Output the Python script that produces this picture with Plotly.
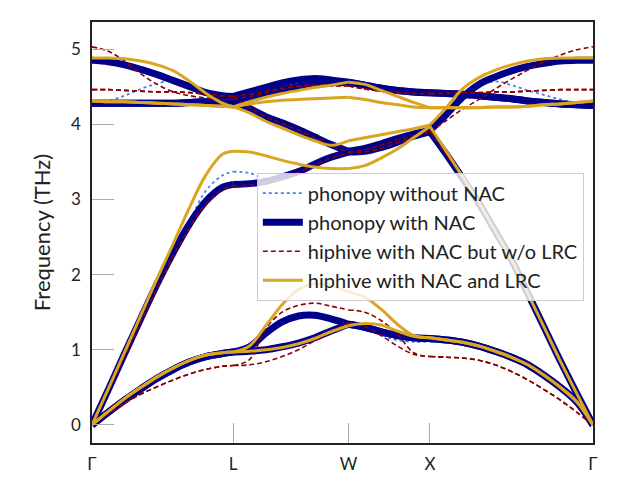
import plotly.graph_objects as go

# path coordinate (distance along Γ-L-W-X-Γ)
q = [0.0, 0.1, 0.2, 0.3, 0.4, 0.5, 0.6, 0.7, 0.8, 0.866,
     0.966, 1.066, 1.166, 1.266, 1.366, 1.466, 1.573,
     1.673, 1.773, 1.873, 1.973, 2.073,
     2.173, 2.273, 2.373, 2.473, 2.573, 2.673, 2.773, 2.873, 2.973, 3.073]
sym_q = [0.0, 0.866, 1.573, 2.073, 3.073]
sym_labels = ["Γ", "L", "W", "X", "Γ"]
seg_idx = [0, 9, 16, 21, 31]

# ---- phonopy with NAC ----
nac_ta1 = [0, 0.17, 0.33, 0.48, 0.62, 0.74, 0.84, 0.91, 0.95, 0.97,
           0.98, 1.0, 1.04, 1.09, 1.16, 1.25, 1.34,
           1.3, 1.24, 1.19, 1.16, 1.15,
           1.13, 1.1, 1.05, 0.98, 0.9, 0.8, 0.66, 0.5, 0.31, 0]
nac_ta2 = [0, 0.17, 0.33, 0.48, 0.62, 0.74, 0.84, 0.91, 0.95, 0.97,
           1.04, 1.22, 1.37, 1.45, 1.46, 1.41, 1.34,
           1.3, 1.24, 1.19, 1.16, 1.15,
           1.13, 1.1, 1.05, 0.98, 0.9, 0.8, 0.66, 0.5, 0.31, 0]
nac_la = [0, 0.47, 0.95, 1.42, 1.88, 2.3, 2.68, 2.98, 3.16, 3.2,
          3.21, 3.24, 3.3, 3.37, 3.47, 3.56, 3.63,
          3.64, 3.69, 3.76, 3.84, 3.9,
          3.6, 3.28, 2.95, 2.58, 2.2, 1.75, 1.3, 0.85, 0.42, 0]
nac_o1 = [4.28, 4.28, 4.28, 4.28, 4.28, 4.28, 4.29, 4.3, 4.31, 4.31,
          4.21, 4.1, 4.02, 3.93, 3.83, 3.73, 3.64,
          3.68, 3.74, 3.81, 3.87, 3.92,
          4.13, 4.36, 4.53, 4.63, 4.71, 4.77, 4.81, 4.84, 4.85, 4.85]
nac_o2 = [4.28, 4.28, 4.28, 4.28, 4.28, 4.28, 4.29, 4.3, 4.31, 4.31,
          4.36, 4.41, 4.46, 4.5, 4.53, 4.55, 4.56,
          4.52, 4.48, 4.45, 4.43, 4.42,
          4.41, 4.4, 4.38, 4.36, 4.34, 4.31, 4.29, 4.27, 4.26, 4.25]
nac_o3 = [4.85, 4.83, 4.79, 4.73, 4.66, 4.58, 4.5, 4.42, 4.38, 4.37,
          4.43, 4.49, 4.55, 4.59, 4.61, 4.59, 4.56,
          4.52, 4.48, 4.45, 4.43, 4.42,
          4.41, 4.4, 4.38, 4.36, 4.34, 4.31, 4.29, 4.27, 4.26, 4.25]

# ---- phonopy without NAC ----
raw_ta1 = [0, 0.17, 0.33, 0.48, 0.62, 0.74, 0.84, 0.91, 0.95, 0.97,
           0.98, 1.0, 1.04, 1.09, 1.16, 1.25, 1.34,
           1.3, 1.2, 1.13, 1.11, 1.11,
           1.11, 1.09, 1.05, 0.98, 0.9, 0.8, 0.66, 0.5, 0.31, 0]
raw_ta2 = [0, 0.17, 0.33, 0.48, 0.62, 0.74, 0.84, 0.91, 0.95, 0.97,
           1.04, 1.22, 1.37, 1.45, 1.46, 1.41, 1.34,
           1.3, 1.2, 1.13, 1.11, 1.11,
           1.11, 1.09, 1.05, 0.98, 0.9, 0.8, 0.66, 0.5, 0.31, 0]
raw_la = [0, 0.47, 0.95, 1.42, 1.88, 2.3, 2.72, 3.12, 3.32, 3.37,
          3.35, 3.28, 3.3, 3.37, 3.47, 3.56, 3.63,
          3.64, 3.69, 3.76, 3.84, 3.9,
          3.6, 3.28, 2.95, 2.58, 2.2, 1.75, 1.3, 0.85, 0.42, 0]
raw_o1 = [4.28, 4.28, 4.28, 4.28, 4.28, 4.28, 4.29, 4.3, 4.31, 4.31,
          4.21, 4.1, 4.02, 3.93, 3.83, 3.73, 3.64,
          3.68, 3.74, 3.81, 3.87, 3.92,
          4.13, 4.36, 4.52, 4.57, 4.52, 4.45, 4.39, 4.33, 4.28, 4.25]
raw_o2 = [4.28, 4.28, 4.28, 4.28, 4.28, 4.28, 4.29, 4.3, 4.31, 4.31,
          4.36, 4.41, 4.46, 4.5, 4.53, 4.55, 4.56,
          4.52, 4.48, 4.45, 4.43, 4.42,
          4.41, 4.4, 4.38, 4.36, 4.34, 4.31, 4.29, 4.27, 4.26, 4.25]
raw_o3 = [4.28, 4.31, 4.38, 4.47, 4.54, 4.58, 4.5, 4.42, 4.38, 4.37,
          4.43, 4.49, 4.55, 4.59, 4.61, 4.59, 4.56,
          4.52, 4.48, 4.45, 4.43, 4.42,
          4.41, 4.4, 4.38, 4.36, 4.34, 4.31, 4.29, 4.27, 4.26, 4.25]

# ---- hiphive with NAC but w/o LRC ----
nolrc_ta1 = [0, 0.15, 0.29, 0.41, 0.51, 0.6, 0.68, 0.74, 0.78, 0.79,
             0.8, 0.84, 0.91, 1.0, 1.12, 1.24, 1.36,
             1.31, 1.19, 1.05, 0.94, 0.91,
             0.9, 0.89, 0.86, 0.8, 0.71, 0.6, 0.47, 0.33, 0.17, 0]
nolrc_ta2 = [0, 0.15, 0.29, 0.41, 0.51, 0.6, 0.68, 0.74, 0.78, 0.79,
             0.87, 1.28, 1.5, 1.59, 1.62, 1.58, 1.53,
             1.5, 1.39, 1.21, 0.96, 0.91,
             0.9, 0.89, 0.86, 0.8, 0.71, 0.6, 0.47, 0.33, 0.17, 0]
nolrc_la = [0, 0.45, 0.91, 1.37, 1.82, 2.25, 2.63, 2.94, 3.13, 3.18,
            3.19, 3.22, 3.28, 3.36, 3.46, 3.55, 3.62,
            3.63, 3.68, 3.75, 3.83, 3.9,
            3.6, 3.28, 2.95, 2.58, 2.2, 1.75, 1.3, 0.85, 0.42, 0]
nolrc_o1 = [4.46, 4.46, 4.45, 4.44, 4.43, 4.43, 4.42, 4.4, 4.38, 4.37,
            4.22, 4.1, 4.01, 3.92, 3.82, 3.72, 3.63,
            3.66, 3.72, 3.79, 3.85, 3.9,
            4.05, 4.2, 4.33, 4.47, 4.6, 4.72, 4.83, 4.92, 4.99, 5.03]
nolrc_o2 = [4.46, 4.46, 4.45, 4.44, 4.43, 4.43, 4.42, 4.4, 4.38, 4.37,
            4.4, 4.44, 4.47, 4.5, 4.51, 4.51, 4.51,
            4.47, 4.44, 4.42, 4.41, 4.41,
            4.41, 4.42, 4.42, 4.43, 4.43, 4.44, 4.45, 4.46, 4.46, 4.46]
nolrc_o3 = [5.03, 4.97, 4.84, 4.67, 4.53, 4.43, 4.38, 4.35, 4.33, 4.33,
            4.37, 4.42, 4.48, 4.51, 4.52, 4.52, 4.51,
            4.47, 4.44, 4.42, 4.41, 4.41,
            4.41, 4.42, 4.42, 4.43, 4.43, 4.44, 4.45, 4.46, 4.46, 4.46]

# ---- hiphive with NAC and LRC ----
lrc_ta1 = [0, 0.18, 0.35, 0.5, 0.64, 0.76, 0.86, 0.93, 0.96, 0.97,
           0.98, 1.0, 1.03, 1.08, 1.15, 1.24, 1.32,
           1.35, 1.33, 1.25, 1.18, 1.16,
           1.13, 1.1, 1.05, 0.98, 0.9, 0.8, 0.66, 0.5, 0.31, 0]
lrc_ta2 = [0, 0.18, 0.35, 0.5, 0.64, 0.76, 0.86, 0.93, 0.96, 0.97,
           1.05, 1.32, 1.6, 1.8, 1.88, 1.85, 1.77,
           1.7, 1.54, 1.34, 1.19, 1.16,
           1.13, 1.1, 1.05, 0.98, 0.9, 0.8, 0.66, 0.5, 0.31, 0]
lrc_la = [0, 0.48, 0.97, 1.46, 1.95, 2.42, 2.9, 3.33, 3.6, 3.64,
          3.63, 3.58, 3.52, 3.47, 3.43, 3.41, 3.41,
          3.45, 3.55, 3.67, 3.82, 3.97,
          3.64, 3.3, 2.96, 2.58, 2.2, 1.75, 1.3, 0.85, 0.42, 0]
lrc_o1 = [4.31, 4.3, 4.3, 4.29, 4.28, 4.27, 4.26, 4.25, 4.24, 4.23,
          4.15, 4.04, 3.95, 3.86, 3.78, 3.72, 3.78,
          3.82, 3.86, 3.9, 3.94, 3.99,
          4.22, 4.47, 4.62, 4.72, 4.79, 4.84, 4.87, 4.88, 4.88, 4.88]
lrc_o2 = [4.31, 4.3, 4.3, 4.29, 4.28, 4.27, 4.26, 4.25, 4.24, 4.23,
          4.27, 4.3, 4.32, 4.33, 4.34, 4.35, 4.36,
          4.33, 4.29, 4.26, 4.23, 4.22,
          4.22, 4.22, 4.22, 4.23, 4.23, 4.24, 4.26, 4.27, 4.29, 4.31]
lrc_o3 = [4.88, 4.88, 4.87, 4.84, 4.79, 4.71, 4.57, 4.41, 4.28, 4.23,
          4.3, 4.36, 4.41, 4.45, 4.49, 4.52, 4.56,
          4.53, 4.45, 4.37, 4.29, 4.22,
          4.22, 4.22, 4.22, 4.23, 4.23, 4.24, 4.26, 4.27, 4.29, 4.31]

series = [
    ("phonopy without NAC", [raw_ta1, raw_ta2, raw_la, raw_o1, raw_o2, raw_o3],
     dict(color="#4a80ee", width=1.8, dash="dot")),
    ("phonopy with NAC", [nac_ta1, nac_ta2, nac_la, nac_o1, nac_o2, nac_o3],
     dict(color="#00008b", width=7)),
    ("hiphive with NAC but w/o LRC", [nolrc_ta1, nolrc_ta2, nolrc_la, nolrc_o1, nolrc_o2, nolrc_o3],
     dict(color="#8b0000", width=1.6, dash="5px,3px")),
    ("hiphive with NAC and LRC", [lrc_ta1, lrc_ta2, lrc_la, lrc_o1, lrc_o2, lrc_o3],
     dict(color="#daa520", width=3)),
]


def with_gaps(vals):
    xs, ys = [], []
    for s in range(len(seg_idx) - 1):
        a, b = seg_idx[s], seg_idx[s + 1]
        xs += q[a:b + 1] + [None]
        ys += vals[a:b + 1] + [None]
    return xs, ys


fig = go.Figure()
for name, branches, style in series:
    for i, br in enumerate(branches):
        xs, ys = with_gaps(br)
        fig.add_trace(go.Scatter(
            x=xs, y=ys, mode="lines", name=name, legendgroup=name,
            showlegend=(i == 0), line=dict(shape="spline", smoothing=1.0, **style),
            connectgaps=False, hoverinfo="skip"))

FONT = "Lato, 'Open Sans', sans-serif"
fig.update_layout(
    width=625, height=500,
    margin=dict(l=84, r=40, t=14, b=65),
    paper_bgcolor="white", plot_bgcolor="white",
    font=dict(family=FONT, size=16, color="#222222"),
    showlegend=True,
    legend=dict(x=0.329, y=0.642, xanchor="left", yanchor="top",
                bgcolor="rgba(255,255,255,0.8)", bordercolor="#cccccc", borderwidth=1,
                font=dict(family=FONT, size=20, color="#222222"),
                itemwidth=40, tracegroupgap=0),
    xaxis=dict(range=[0, 3.073], tickmode="array", tickvals=sym_q, ticktext=sym_labels,
               ticks="inside", ticklen=20, tickcolor="#aaaaaa", tickwidth=1,
               showline=True, linecolor="#222222", linewidth=1.5, mirror=True,
               showgrid=False, zeroline=False, ticklabelstandoff=5,
               tickfont=dict(size=17)),
    yaxis=dict(range=[-0.24, 5.36], tickmode="array", tickvals=[0, 1, 2, 3, 4, 5],
               ticks="inside", ticklen=22, tickcolor="#aaaaaa", tickwidth=1,
               showline=True, linecolor="#222222", linewidth=1.5, mirror=True,
               showgrid=False, zeroline=False, ticklabelstandoff=6,
               tickfont=dict(size=17),
               title=dict(text="Frequency (THz)", font=dict(size=22), standoff=14)),
)

fig.write_html("out.html")
